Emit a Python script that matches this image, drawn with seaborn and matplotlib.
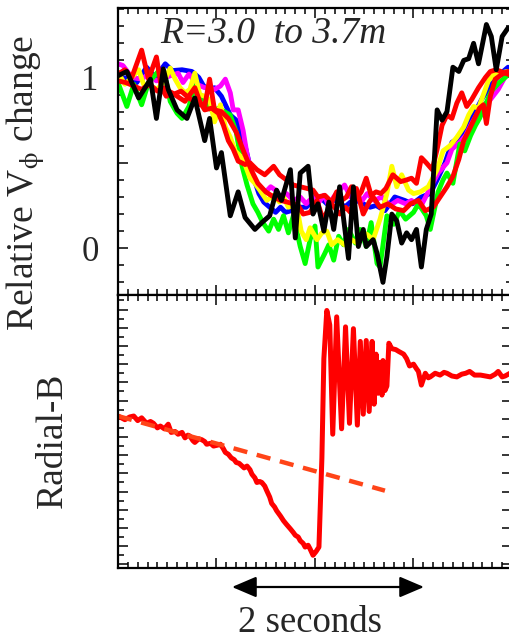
import numpy as np
import pandas as pd
import matplotlib
matplotlib.use("Agg")
from matplotlib import pyplot as plt
from matplotlib.ticker import MultipleLocator, NullFormatter
import seaborn as sns

# ---- top panel: relative V_phi change, (time [s], value) ----
BLACK = [(0.00, 1.01), (0.09, 1.035), (0.21, 0.88), (0.33, 0.99), (0.39, 0.76), (0.46, 1.05),
         (0.51, 0.93), (0.60, 0.81), (0.70, 0.76), (0.78, 0.88), (0.88, 0.63), (0.93, 0.76),
         (1.00, 0.47), (1.05, 0.56), (1.14, 0.19), (1.22, 0.33), (1.29, 0.18), (1.39, 0.11),
         (1.46, 0.15), (1.54, 0.19), (1.61, 0.34), (1.66, 0.28), (1.75, 0.46), (1.80, 0.06),
         (1.85, 0.44), (1.93, 0.48), (1.98, 0.20), (2.03, 0.26), (2.09, 0.10), (2.14, 0.27),
         (2.19, 0.11), (2.25, 0.36), (2.34, -0.06), (2.39, 0.36), (2.44, 0.01), (2.49, 0.11),
         (2.52, 0.01), (2.59, 0.05), (2.63, -0.03), (2.69, -0.20), (2.73, -0.05), (2.78, 0.20),
         (2.83, 0.16), (2.88, 0.03), (2.93, 0.09), (2.98, 0.05), (3.03, 0.11), (3.08, -0.11),
         (3.13, 0.11), (3.18, 0.20), (3.24, 0.81), (3.29, 0.75), (3.34, 0.80), (3.40, 1.06),
         (3.46, 1.035), (3.51, 1.10), (3.56, 1.11), (3.61, 1.20), (3.66, 1.08), (3.74, 1.31),
         (3.79, 1.24), (3.84, 1.045), (3.90, 1.24), (3.96, 1.29)]

RED_A = [(0.00, 1.02), (0.07, 1.045), (0.14, 1.00), (0.24, 1.16), (0.31, 0.99), (0.39, 1.12),
         (0.44, 0.94), (0.49, 0.89), (0.55, 0.91), (0.60, 0.89), (0.68, 0.86), (0.73, 0.90),
         (0.78, 0.94), (0.83, 0.86), (0.88, 0.81), (0.95, 0.82), (1.02, 0.79), (1.07, 0.72),
         (1.12, 0.63), (1.17, 0.58), (1.22, 0.51), (1.29, 0.49), (1.34, 0.50), (1.41, 0.46),
         (1.49, 0.43), (1.58, 0.48), (1.64, 0.43), (1.71, 0.40), (1.78, 0.37), (1.85, 0.36),
         (1.92, 0.35), (1.98, 0.34), (2.03, 0.30), (2.10, 0.31), (2.17, 0.27), (2.22, 0.33),
         (2.27, 0.28), (2.32, 0.30), (2.37, 0.36), (2.42, 0.29), (2.47, 0.33), (2.52, 0.41),
         (2.57, 0.31), (2.62, 0.33), (2.67, 0.32), (2.72, 0.35), (2.79, 0.43), (2.87, 0.39),
         (2.93, 0.40), (2.98, 0.41), (3.03, 0.38), (3.08, 0.53), (3.13, 0.50), (3.19, 0.46),
         (3.24, 0.58), (3.29, 0.72), (3.34, 0.78), (3.39, 0.76), (3.44, 0.85), (3.49, 0.91),
         (3.54, 0.83), (3.59, 0.87), (3.66, 0.94), (3.73, 1.00), (3.78, 1.035), (3.84, 1.045),
         (3.91, 1.03), (3.98, 1.015)]

RED_B = [(0.00, 0.98), (0.08, 0.97), (0.16, 0.95), (0.24, 0.93), (0.32, 0.96), (0.40, 0.92),
         (0.48, 0.94), (0.56, 0.90), (0.64, 0.92), (0.72, 0.88), (0.80, 0.85), (0.88, 0.83),
         (0.93, 0.99), (0.98, 0.81), (1.05, 0.80), (1.12, 0.76), (1.20, 0.68), (1.28, 0.56),
         (1.36, 0.45), (1.42, 0.38), (1.50, 0.33), (1.58, 0.30), (1.65, 0.28), (1.72, 0.27),
         (1.78, 0.26), (1.83, 0.25), (1.88, 0.20), (1.95, 0.21), (2.02, 0.28), (2.08, 0.17),
         (2.17, 0.26), (2.25, 0.20), (2.31, 0.24), (2.36, 0.21), (2.42, 0.35), (2.49, 0.20),
         (2.55, 0.27), (2.59, 0.30), (2.66, 0.24), (2.74, 0.26), (2.82, 0.23), (2.90, 0.22),
         (2.97, 0.26), (3.05, 0.28), (3.12, 0.22), (3.20, 0.24), (3.27, 0.30), (3.34, 0.36),
         (3.40, 0.42), (3.46, 0.52), (3.51, 0.63), (3.57, 0.70), (3.62, 0.76), (3.67, 0.82),
         (3.71, 0.84), (3.74, 0.73), (3.78, 0.89), (3.83, 0.99), (3.90, 1.02), (3.96, 1.035)]

BLUE = [(0.00, 0.99), (0.10, 1.00), (0.19, 0.97), (0.29, 1.06), (0.38, 1.00), (0.48, 1.08),
        (0.55, 1.04), (0.65, 1.045), (0.75, 1.035), (0.82, 1.00), (0.87, 0.95), (0.93, 0.93),
        (0.98, 0.94), (1.05, 0.89), (1.14, 0.78), (1.20, 0.75), (1.24, 0.69), (1.29, 0.60),
        (1.34, 0.48), (1.39, 0.39), (1.43, 0.32), (1.48, 0.27), (1.54, 0.24), (1.60, 0.21),
        (1.65, 0.24), (1.70, 0.21), (1.76, 0.22), (1.83, 0.24), (1.91, 0.24), (1.99, 0.28),
        (2.05, 0.30), (2.12, 0.26), (2.19, 0.28), (2.24, 0.28), (2.30, 0.24), (2.36, 0.27),
        (2.42, 0.28), (2.49, 0.26), (2.56, 0.24), (2.62, 0.25), (2.71, 0.22), (2.81, 0.30),
        (2.91, 0.28), (2.99, 0.26), (3.08, 0.30), (3.17, 0.32), (3.24, 0.40), (3.32, 0.50),
        (3.39, 0.62), (3.47, 0.65), (3.54, 0.71), (3.61, 0.78), (3.69, 0.87), (3.79, 0.96),
        (3.88, 1.02), (3.96, 1.06)]

MAGENTA = [(0.00, 1.08), (0.05, 1.07), (0.14, 1.00), (0.24, 0.99), (0.31, 1.02), (0.39, 0.98),
           (0.48, 1.00), (0.61, 1.025), (0.66, 0.97), (0.72, 1.02), (0.80, 0.96), (0.88, 0.94),
           (0.93, 0.94), (0.98, 0.93), (1.04, 0.95), (1.09, 0.99), (1.14, 0.91), (1.17, 0.81),
           (1.22, 0.81), (1.27, 0.69), (1.31, 0.55), (1.36, 0.43), (1.43, 0.36), (1.50, 0.33),
           (1.55, 0.36), (1.60, 0.34), (1.66, 0.29), (1.71, 0.32), (1.78, 0.28), (1.85, 0.30),
           (1.91, 0.26), (1.98, 0.30), (2.04, 0.27), (2.09, 0.31), (2.14, 0.25), (2.19, 0.30),
           (2.25, 0.34), (2.30, 0.37), (2.36, 0.30), (2.41, 0.32), (2.48, 0.28), (2.53, 0.32),
           (2.60, 0.28), (2.68, 0.30), (2.76, 0.25), (2.84, 0.28), (2.92, 0.26), (2.98, 0.28),
           (3.07, 0.24), (3.15, 0.33), (3.25, 0.44), (3.34, 0.50), (3.39, 0.58), (3.47, 0.62),
           (3.53, 0.66), (3.59, 0.73), (3.69, 0.83), (3.78, 0.87), (3.86, 0.93), (3.95, 1.025)]

YELLOW = [(0.00, 1.03), (0.07, 0.96), (0.14, 1.00), (0.21, 1.045), (0.26, 0.96), (0.33, 0.95),
          (0.40, 0.93), (0.47, 0.98), (0.53, 1.055), (0.58, 0.99), (0.63, 0.94), (0.68, 0.91),
          (0.73, 0.93), (0.78, 1.025), (0.83, 0.90), (0.88, 0.89), (0.93, 0.87), (0.98, 0.74),
          (1.04, 0.84), (1.09, 0.71), (1.14, 0.65), (1.19, 0.57), (1.24, 0.54), (1.29, 0.49),
          (1.34, 0.41), (1.39, 0.38), (1.44, 0.34), (1.51, 0.28), (1.58, 0.31), (1.64, 0.27),
          (1.68, 0.30), (1.73, 0.24), (1.81, 0.26), (1.86, 0.10), (1.91, 0.05), (1.95, 0.12),
          (2.02, 0.05), (2.07, 0.09), (2.12, 0.10), (2.17, 0.02), (2.23, 0.05), (2.30, 0.02),
          (2.37, 0.05), (2.43, 0.03), (2.49, 0.09), (2.53, 0.08), (2.59, 0.05), (2.66, 0.17),
          (2.73, 0.32), (2.78, 0.48), (2.83, 0.36), (2.88, 0.43), (2.95, 0.34), (3.00, 0.32),
          (3.07, 0.33), (3.15, 0.36), (3.24, 0.46), (3.30, 0.57), (3.37, 0.60), (3.44, 0.65),
          (3.51, 0.71), (3.56, 0.78), (3.61, 0.83), (3.66, 0.82), (3.71, 0.90), (3.76, 0.98),
          (3.82, 1.02), (3.88, 1.025), (3.95, 1.035)]

GREEN = [(0.00, 0.97), (0.09, 0.83), (0.16, 0.96), (0.24, 0.84), (0.31, 0.97), (0.40, 1.03),
         (0.47, 1.03), (0.53, 0.86), (0.60, 0.79), (0.65, 0.76), (0.72, 0.83), (0.78, 0.95),
         (0.84, 0.88), (0.90, 0.86), (0.96, 0.80), (1.02, 0.82), (1.08, 0.80), (1.14, 0.78),
         (1.20, 0.68), (1.26, 0.48), (1.31, 0.37), (1.37, 0.26), (1.42, 0.21), (1.47, 0.15),
         (1.53, 0.10), (1.58, 0.17), (1.63, 0.11), (1.68, 0.19), (1.73, 0.09), (1.78, 0.19),
         (1.85, 0.01), (1.90, -0.09), (1.95, 0.05), (2.00, 0.13), (2.03, -0.11), (2.10, -0.03),
         (2.14, 0.02), (2.19, -0.07), (2.24, 0.07), (2.29, 0.02), (2.34, 0.11), (2.41, 0.03),
         (2.46, 0.11), (2.52, 0.01), (2.57, 0.15), (2.63, -0.09), (2.66, -0.11), (2.73, 0.19),
         (2.80, 0.14), (2.86, 0.22), (2.92, 0.17), (3.00, 0.21), (3.05, 0.26), (3.13, 0.19),
         (3.17, 0.11), (3.25, 0.33), (3.30, 0.40), (3.34, 0.44), (3.40, 0.38), (3.47, 0.61),
         (3.52, 0.57), (3.58, 0.66), (3.63, 0.72), (3.67, 0.76), (3.73, 0.84), (3.79, 0.92),
         (3.87, 0.97), (3.95, 1.01)]

# ---- bottom panel: radial B (arbitrary units) ----
RADIAL_B = [(0.00, 16.7), (0.07, 16.3), (0.12, 16.6), (0.16, 16.7), (0.20, 16.2), (0.24, 16.5),
            (0.29, 15.9), (0.33, 16.1), (0.36, 15.9), (0.40, 15.4), (0.43, 15.6), (0.47, 15.3),
            (0.51, 15.8), (0.54, 14.9), (0.58, 15.0), (0.61, 14.7), (0.65, 14.9), (0.68, 14.3),
            (0.71, 14.6), (0.73, 14.5), (0.76, 14.0), (0.78, 13.8), (0.82, 14.2), (0.85, 14.1),
            (0.88, 13.9), (0.90, 13.6), (0.94, 13.7), (0.97, 13.4), (1.01, 13.5), (1.04, 13.6),
            (1.07, 13.1), (1.09, 12.7), (1.12, 12.5), (1.15, 12.1), (1.18, 11.9), (1.20, 11.6),
            (1.23, 11.5), (1.26, 11.2), (1.28, 11.0), (1.31, 11.2), (1.34, 10.8), (1.36, 10.3),
            (1.39, 9.9), (1.41, 9.4), (1.44, 9.5), (1.46, 9.4), (1.49, 9.0), (1.51, 8.5),
            (1.54, 7.8), (1.56, 7.1), (1.59, 6.7), (1.61, 6.3), (1.65, 5.7), (1.68, 5.2),
            (1.71, 4.8), (1.75, 4.3), (1.78, 3.9), (1.80, 3.6), (1.83, 3.4), (1.85, 3.0),
            (1.88, 2.7), (1.90, 2.3), (1.93, 2.5), (1.95, 2.1), (1.98, 1.4), (2.01, 1.8),
            (2.04, 2.3), (2.07, 12.1), (2.09, 23.0), (2.12, 28.3), (2.15, 26.7), (2.18, 14.7),
            (2.22, 27.6), (2.27, 15.3), (2.31, 26.5), (2.35, 15.9), (2.39, 26.3), (2.43, 15.7),
            (2.46, 24.9), (2.49, 16.9), (2.52, 25.0), (2.55, 17.2), (2.58, 24.9), (2.60, 18.0),
            (2.62, 23.5), (2.64, 19.2), (2.66, 22.6), (2.68, 19.0), (2.69, 22.8), (2.71, 19.5),
            (2.73, 20.0), (2.75, 24.7), (2.78, 24.1), (2.82, 24.0), (2.85, 23.8), (2.90, 23.5),
            (2.93, 23.0), (2.96, 22.2), (3.00, 22.4), (3.03, 21.9), (3.05, 21.6), (3.08, 20.1),
            (3.12, 21.4), (3.15, 20.9), (3.17, 21.0), (3.22, 21.4), (3.27, 21.2), (3.31, 21.5),
            (3.34, 21.4), (3.39, 21.1), (3.44, 21.0), (3.49, 21.3), (3.53, 21.4), (3.57, 21.6),
            (3.62, 21.2), (3.68, 21.2), (3.73, 21.1), (3.78, 21.0), (3.83, 21.3), (3.86, 21.6),
            (3.90, 21.0), (3.93, 21.1), (3.98, 21.4)]
TREND = [(0.00, 16.7), (2.71, 8.5)]

ORDER = ["blue", "magenta", "green", "yellow", "red2", "red1", "black"]
COLORS = {"blue": "#0000ff", "magenta": "#ff00ff", "green": "#00ff00", "yellow": "#ffff00",
          "red2": "#ff0000", "red1": "#ff0000", "black": "#000000"}
TOP = {"blue": BLUE, "magenta": MAGENTA, "green": GREEN, "yellow": YELLOW,
       "red2": RED_B, "red1": RED_A, "black": BLACK}


def frame(pairs, name):
    d = pd.DataFrame(pairs, columns=["t", "v"])
    d["series"] = name
    return d


sns.set_style("ticks")
plt.rcParams["font.family"] = ["Liberation Serif", "DejaVu Serif"]
plt.rcParams["mathtext.fontset"] = "stix"

W, H = 510, 641
fig = plt.figure(figsize=(W / 100, H / 100), dpi=100)
ax1 = fig.add_axes([118 / W, 1 - 295 / H, 394 / W, (295 - 8.3) / H])
ax2 = fig.add_axes([118 / W, 1 - 568 / H, 394 / W, (568 - 295) / H])

top = pd.concat([frame(TOP[k], k) for k in ORDER], ignore_index=True)
sns.lineplot(data=top, x="t", y="v", hue="series", hue_order=ORDER, palette=COLORS,
             estimator=None, sort=False, lw=3.5, legend=False, ax=ax1)

sns.lineplot(data=frame(RADIAL_B, "b"), x="t", y="v", color="#ff0000", lw=3.6,
             estimator=None, sort=False, ax=ax2)
sns.lineplot(data=frame(TREND, "fit"), x="t", y="v", color="#ff4418", lw=3.2,
             linestyle=(0, (3.2, 2.2)), estimator=None, sort=False, ax=ax2)

for ax in (ax1, ax2):
    ax.set_xlim(0, 4.0)
    ax.set_xlabel("")
    ax.set_ylabel("")
    ax.xaxis.set_major_locator(MultipleLocator(1))
    ax.xaxis.set_minor_locator(MultipleLocator(0.1))
    ax.xaxis.set_major_formatter(NullFormatter())
    ax.tick_params(which="both", direction="in", top=True, right=True, width=1.1, color="k")
    ax.tick_params(which="major", length=7)
    ax.tick_params(which="minor", length=4)
    for s in ax.spines.values():
        s.set_linewidth(1.6)
        s.set_color("k")

ax1.set_ylim(-0.274, 1.405)
ax1.set_yticks([0, 0.5, 1.0])
ax1.set_yticklabels(["0", "", "1"])
ax1.yaxis.set_minor_locator(MultipleLocator(0.1))
ax1.tick_params(axis="y", labelsize=25, pad=14)

ax2.set_ylim(0, 30)
ax2.yaxis.set_major_locator(MultipleLocator(2, offset=0.4))
ax2.yaxis.set_minor_locator(MultipleLocator(1, offset=0.4))
ax2.yaxis.set_major_formatter(NullFormatter())
ax2.tick_params(axis="y", which="minor", right=False)

fig.text(26 / W, 1 - 183 / H, r"Relative V$_\mathrm{\phi}$ change", rotation=90, fontsize=27,
         ha="center", va="center")
fig.text(53 / W, 1 - 440 / H, "Radial-B", rotation=90, fontsize=27, ha="center", va="center")
fig.text(160 / W, 1 - 34 / H, "R=3.0  to 3.7m", style="italic", fontsize=27,
         ha="left", va="center")

ax2.annotate("", xy=(232 / W, 1 - 587 / H), xytext=(424 / W, 1 - 587 / H),
             xycoords="figure fraction", textcoords="figure fraction",
             arrowprops=dict(arrowstyle="<|-|>,head_length=0.75,head_width=0.32",
                             mutation_scale=20, color="k", lw=1.6, shrinkA=0, shrinkB=0))
fig.text(310 / W, 1 - 632 / H, "2 seconds", fontsize=26.5, ha="center", va="baseline")

fig.savefig("out.png", dpi=100)
